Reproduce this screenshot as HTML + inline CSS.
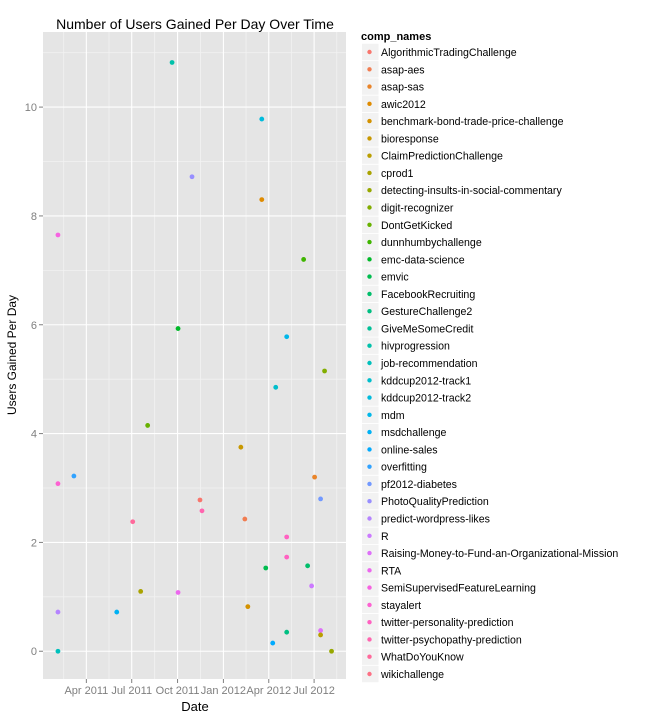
<!DOCTYPE html>
<html><head><meta charset="utf-8"><style>
body{margin:0;background:#fff;}
svg text{font-family:"Liberation Sans",Arial,sans-serif;}
</style></head><body>
<svg id="chart" width="648" height="720" xmlns="http://www.w3.org/2000/svg">
</svg>
<script>
const categories=["AlgorithmicTradingChallenge","asap-aes","asap-sas","awic2012","benchmark-bond-trade-price-challenge","bioresponse","ClaimPredictionChallenge","cprod1","detecting-insults-in-social-commentary","digit-recognizer","DontGetKicked","dunnhumbychallenge","emc-data-science","emvic","FacebookRecruiting","GestureChallenge2","GiveMeSomeCredit","hivprogression","job-recommendation","kddcup2012-track1","kddcup2012-track2","mdm","msdchallenge","online-sales","overfitting","pf2012-diabetes","PhotoQualityPrediction","predict-wordpress-likes","R","Raising-Money-to-Fund-an-Organizational-Mission","RTA","SemiSupervisedFeatureLearning","stayalert","twitter-personality-prediction","twitter-psychopathy-prediction","WhatDoYouKnow","wikichallenge"];
const pointDates=["2011-02-03","2011-02-03","2011-02-03","2011-02-03","2011-03-07","2011-06-01","2011-07-03","2011-07-19","2011-08-02","2011-09-20","2011-10-02","2011-10-02","2011-10-30","2011-11-15","2011-11-19","2012-02-05","2012-02-13","2012-02-19","2012-03-18","2012-03-18","2012-03-26","2012-04-09","2012-04-15","2012-05-07","2012-05-07","2012-05-07","2012-05-07","2012-06-10","2012-06-18","2012-06-26","2012-07-02","2012-07-14","2012-07-14","2012-07-14","2012-07-22","2012-08-05"];
const pointValues=[7.65,3.08,0.72,0.0,3.22,0.72,2.38,1.1,4.15,10.82,5.93,1.08,8.72,2.78,2.58,3.75,2.43,0.82,9.78,8.3,1.53,0.15,4.85,5.78,2.1,1.73,0.35,7.2,1.57,1.2,3.2,2.8,0.38,0.3,5.15,0.0];
const pointCats=[31,32,27,18,24,22,35,7,10,17,12,30,26,0,34,5,1,4,20,3,13,23,19,21,33,33,15,11,14,28,2,25,29,6,9,8];
const yTicks=[0,2,4,6,8,10];
const xTickDates=["2011-04-01","2011-07-01","2011-10-01","2012-01-01","2012-04-01","2012-07-01"];
const xTickLabels=["Apr 2011","Jul 2011","Oct 2011","Jan 2012","Apr 2012","Jul 2012"];

const NS="http://www.w3.org/2000/svg";
const svg=document.getElementById('chart');
const P={l:43,r:346,t:32,b:679};
const D0=Date.parse("2011-01-04"),D1=Date.parse("2012-09-03");
const xs=d=>P.l+(Date.parse(d)-D0)/(D1-D0)*(P.r-P.l);
const xsT=t=>P.l+(t-D0)/(D1-D0)*(P.r-P.l);
const Y0=-0.51,Y1=11.38;
const ys=v=>P.b-(v-Y0)/(Y1-Y0)*(P.b-P.t);
function el(tag,a,parent){const e=document.createElementNS(NS,tag);for(const k in a)e.setAttribute(k,a[k]);(parent||svg).appendChild(e);return e;}
function hcl(h,c,l){h=h*Math.PI/180;const L=l,U=c*Math.cos(h),V=c*Math.sin(h);
 const Xn=95.047,Yn=100,Zn=108.883;const un=4*Xn/(Xn+15*Yn+3*Zn),vn=9*Yn/(Xn+15*Yn+3*Zn);
 const Y=L>8?Yn*Math.pow((L+16)/116,3):Yn*L/903.3;const u=U/(13*L)+un,v=V/(13*L)+vn;
 const X=9*Y*u/(4*v),Z=(12-3*u-20*v)*Y/(4*v);
 const x=X/100,y=Y/100,z=Z/100;let r=3.2406*x-1.5372*y-0.4986*z,g=-0.9689*x+1.8758*y+0.0415*z,b=0.0557*x-0.2040*y+1.0570*z;
 const f=t=>{t=t<=0.0031308?12.92*t:1.055*Math.pow(t,1/2.4)-0.055;return Math.round(Math.max(0,Math.min(1,t))*255);};
 return `rgb(${f(r)},${f(g)},${f(b)})`;}
const colors=categories.map((c,i)=>hcl(15+i*360/categories.length,100,65));

const t=el('text',{x:195,y:29,'font-size':14,'text-anchor':'middle',fill:'#000'});t.textContent="Number of Users Gained Per Day Over Time";

const panel=el('rect',{x:P.l,y:P.t,width:P.r-P.l,height:P.b-P.t,fill:'#E5E5E5'});

for(let i=0;i<yTicks.length+1;i++){const v=i*2-1;if(v<Y0||v>Y1)continue;el('line',{x1:P.l,x2:P.r,y1:ys(v),y2:ys(v),stroke:'#F2F2F2','stroke-width':0.8});}
const tt=xTickDates.map(d=>Date.parse(d));
const step=tt[1]-tt[0];
const mins=[tt[0]-step/2];for(let i=0;i<tt.length-1;i++)mins.push((tt[i]+tt[i+1])/2);mins.push(tt[tt.length-1]+step/2);
mins.forEach(m=>{const x=xsT(m);if(x>P.l&&x<P.r)el('line',{x1:x,x2:x,y1:P.t,y2:P.b,stroke:'#F2F2F2','stroke-width':0.8});});
yTicks.forEach(v=>{const y=ys(v);el('line',{x1:P.l,x2:P.r,y1:y,y2:y,stroke:'#fff','stroke-width':1.1});
 el('line',{x1:P.l-4,x2:P.l,y1:y,y2:y,stroke:'#7F7F7F'});
 const lb=el('text',{x:P.l-6,y:y+4,'font-size':11,'text-anchor':'end',fill:'#7F7F7F'});lb.textContent=v;
 });
xTickDates.forEach((d,i)=>{const x=xs(d);el('line',{x1:x,x2:x,y1:P.t,y2:P.b,stroke:'#fff','stroke-width':1.1});
 el('line',{x1:x,x2:x,y1:P.b,y2:P.b+4,stroke:'#7F7F7F'});
 const lb=el('text',{x:x,y:P.b+15,'font-size':11,'text-anchor':'middle',fill:'#7F7F7F'});lb.textContent=xTickLabels[i];
 });
const xt=el('text',{x:195,y:711,'font-size':13,'text-anchor':'middle',fill:'#000'});xt.textContent="Date";

const yt=el('text',{x:0,y:0,'font-size':12,'text-anchor':'middle',fill:'#000',transform:'translate(16,355) rotate(-90)'});yt.textContent="Users Gained Per Day";

pointValues.forEach((v,i)=>{const c=el('circle',{cx:xs(pointDates[i]),cy:ys(v),r:2.4,fill:colors[pointCats[i]]});
 });
const lt=el('text',{x:361,y:40,'font-size':11,'font-weight':'bold',fill:'#000'});lt.textContent="comp_names";

const ly0=52,ldy=(674-52)/(categories.length-1);
categories.forEach((c,i)=>{const y=ly0+i*ldy;
 const g=el('g',{});
 el('rect',{x:362,y:y-8.2,width:16.5,height:16.4,fill:'#F2F2F2'},g);
 el('circle',{cx:369.5,cy:y,r:2.2,fill:colors[i]},g);
 const tx=el('text',{x:381,y:y+4,'font-size':10.6,fill:'#000'},g);tx.textContent=c;});
</script>
</body></html>
